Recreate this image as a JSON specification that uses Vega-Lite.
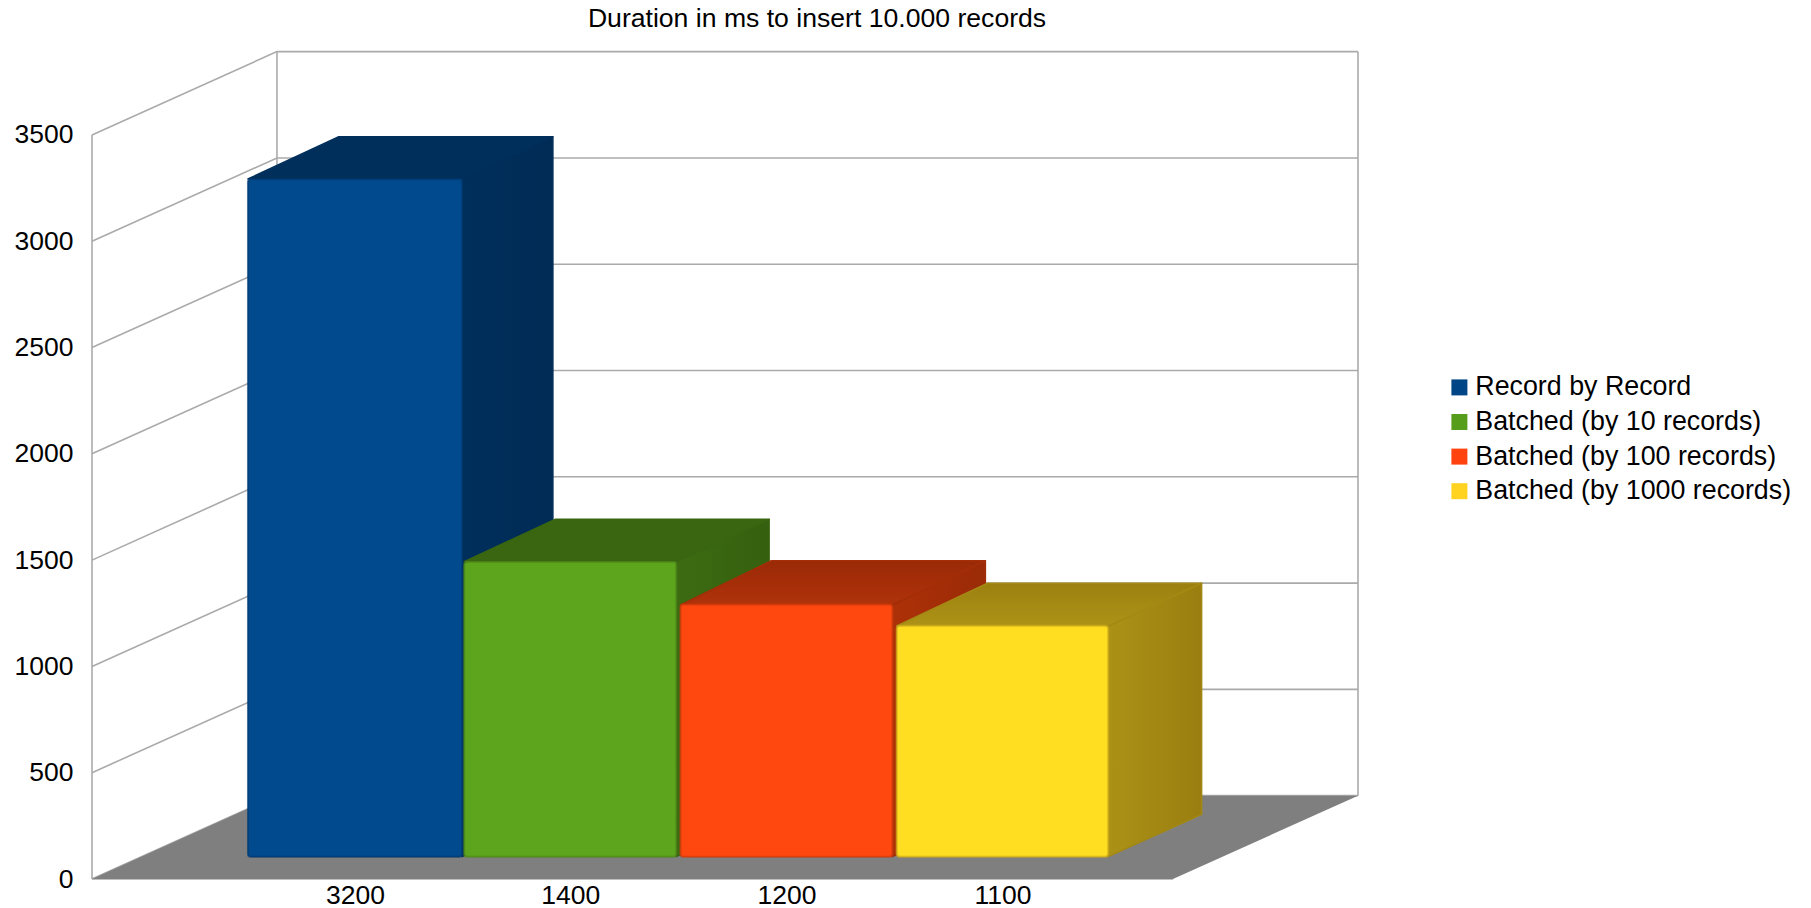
{"$schema":"https://vega.github.io/schema/vega-lite/v6.json","width":1266,"height":828,"autosize":{"type":"none"},"padding":{"left":92,"top":51,"right":453,"bottom":29},"background":"white","config":{"view":{"stroke":null},"font":"Liberation Sans"},"title":{"text":"Duration in ms to insert 10.000 records","fontSize":26.6,"fontWeight":"normal","font":"Liberation Sans","color":"#000000","anchor":"middle","dx":92,"offset":16},"datasets":{"bars":[{"series":"Record by Record","category":"3200","value":3200,"start":0,"end":0.99},{"series":"Batched (by 10 records)","category":"1400","value":1400,"start":1.0,"end":1.98},{"series":"Batched (by 100 records)","category":"1200","value":1200,"start":2.0,"end":2.98},{"series":"Batched (by 1000 records)","category":"1100","value":1100,"start":3.0,"end":3.978}],"grid":[{"line":"g0","x":-0.7212,"y":0},{"line":"g0","x":0.1341,"y":392},{"line":"g0","x":5.1331,"y":392},{"line":"g500","x":-0.7212,"y":500},{"line":"g500","x":0.1341,"y":892},{"line":"g500","x":5.1331,"y":892},{"line":"g1000","x":-0.7212,"y":1000},{"line":"g1000","x":0.1341,"y":1392},{"line":"g1000","x":5.1331,"y":1392},{"line":"g1500","x":-0.7212,"y":1500},{"line":"g1500","x":0.1341,"y":1892},{"line":"g1500","x":5.1331,"y":1892},{"line":"g2000","x":-0.7212,"y":2000},{"line":"g2000","x":0.1341,"y":2392},{"line":"g2000","x":5.1331,"y":2392},{"line":"g2500","x":-0.7212,"y":2500},{"line":"g2500","x":0.1341,"y":2892},{"line":"g2500","x":5.1331,"y":2892},{"line":"g3000","x":-0.7212,"y":3000},{"line":"g3000","x":0.1341,"y":3392},{"line":"g3000","x":5.1331,"y":3392},{"line":"g3500","x":-0.7212,"y":3500},{"line":"g3500","x":0.1341,"y":3892},{"line":"g3500","x":5.1331,"y":3892},{"line":"left","x":-0.7212,"y":0},{"line":"left","x":-0.7212,"y":3500},{"line":"back","x":0.1341,"y":392},{"line":"back","x":0.1341,"y":3892},{"line":"right","x":5.1331,"y":392},{"line":"right","x":5.1331,"y":3892},{"line":"front","x":-0.7212,"y":0},{"line":"front","x":4.2775,"y":0}],"floor":[{"x":-0.7212,"y":0,"y2":0},{"x":0.1341,"y":0,"y2":392},{"x":4.2775,"y":0,"y2":392},{"x":5.1331,"y":392,"y2":392}],"faces":[{"series":"blue","face":"side","x":0.99,"y":105,"y2":3293},{"series":"blue","face":"side","x":1.41,"y":304,"y2":3492},{"series":"blue","face":"top","x":0,"y":3293,"y2":3293},{"series":"blue","face":"top","x":0.42,"y":3293,"y2":3492},{"series":"blue","face":"top","x":0.99,"y":3293,"y2":3492},{"series":"blue","face":"top","x":1.41,"y":3492,"y2":3492},{"series":"green","face":"side","x":1.98,"y":105,"y2":1493},{"series":"green","face":"side","x":2.41,"y":304,"y2":1692},{"series":"green","face":"top","x":1.0,"y":1493,"y2":1493},{"series":"green","face":"top","x":1.42,"y":1493,"y2":1692},{"series":"green","face":"top","x":1.98,"y":1493,"y2":1692},{"series":"green","face":"top","x":2.41,"y":1692,"y2":1692},{"series":"red","face":"side","x":2.98,"y":105,"y2":1289},{"series":"red","face":"side","x":3.41,"y":304,"y2":1497},{"series":"red","face":"top","x":2.0,"y":1289,"y2":1289},{"series":"red","face":"top","x":2.42,"y":1289,"y2":1497},{"series":"red","face":"top","x":2.98,"y":1289,"y2":1497},{"series":"red","face":"top","x":3.41,"y":1497,"y2":1497},{"series":"yellow","face":"side","x":3.978,"y":105,"y2":1190},{"series":"yellow","face":"side","x":4.41,"y":304,"y2":1391},{"series":"yellow","face":"top","x":3.0,"y":1190,"y2":1190},{"series":"yellow","face":"top","x":3.42,"y":1190,"y2":1391},{"series":"yellow","face":"top","x":3.978,"y":1190,"y2":1391},{"series":"yellow","face":"top","x":4.41,"y":1391,"y2":1391}]},"encoding":{"x":{"field":"x","type":"quantitative","title":null,"scale":{"domain":[-0.7212,5.1331],"nice":false,"zero":false},"axis":{"values":[0.495,1.49,2.49,3.489],"labelExpr":"datum.value<1?'3200':datum.value<2?'1400':datum.value<3?'1200':'1100'","title":null,"grid":false,"domain":false,"ticks":false,"labelFontSize":26.5,"labelColor":"#000000","labelFont":"Liberation Sans","labelPadding":3,"labelFlush":false,"labelOverlap":false}},"y":{"field":"y","type":"quantitative","title":null,"scale":{"domain":[0,3895],"nice":false,"zero":false},"axis":{"values":[0,500,1000,1500,2000,2500,3000,3500],"title":null,"grid":false,"domain":false,"ticks":false,"labelFontSize":26.5,"labelColor":"#000000","labelFont":"Liberation Sans","labelPadding":19,"format":"d","labelFlush":false,"labelOverlap":false}}},"layer":[{"data":{"name":"grid"},"mark":{"type":"line","stroke":"#aaaaaa","strokeWidth":1.6},"encoding":{"detail":{"field":"line"}}},{"data":{"name":"floor"},"mark":{"type":"area","fill":"#7f7f7f"},"encoding":{"y2":{"field":"y2"}}},{"data":{"name":"bars"},"mark":{"type":"bar","yOffset":-19.5,"y2Offset":-22.3,"cornerRadius":3},"encoding":{"x":{"field":"start","type":"quantitative","title":null},"x2":{"field":"end"},"y":{"field":"value","type":"quantitative","title":null},"y2":{"datum":0},"color":{"field":"series","type":"nominal","title":null,"scale":{"domain":["Record by Record","Batched (by 10 records)","Batched (by 100 records)","Batched (by 1000 records)"],"range":["#004586","#579d1c","#ff420e","#ffd320"]},"legend":{"orient":"none","legendX":1354,"legendY":323,"symbolType":"square","symbolSize":256,"symbolStrokeWidth":0,"labelFontSize":26.8,"labelFont":"Liberation Sans","labelColor":"#000000","labelLimit":400,"rowPadding":6.6,"labelOffset":2.5,"title":null}}}},{"data":{"name":"faces"},"transform":[{"filter":"datum.series=='blue'&&datum.face=='side'"}],"mark":{"type":"area","stroke":"#002d58","strokeWidth":1.5,"strokeJoin":"round","fill":{"gradient":"linear","x1":0,"x2":1,"y1":0,"y2":0,"stops":[{"offset":0,"color":"#002f5c"},{"offset":1,"color":"#002b55"}]}},"encoding":{"y2":{"field":"y2"}}},{"data":{"name":"faces"},"transform":[{"filter":"datum.series=='blue'&&datum.face=='top'"}],"mark":{"type":"area","fill":"#002f5c","stroke":"#002f5c","strokeWidth":1.5,"strokeJoin":"round"},"encoding":{"y2":{"field":"y2"}}},{"data":{"name":"bars"},"transform":[{"filter":"datum.category=='3200'"}],"mark":{"type":"bar","yOffset":-19.5,"y2Offset":-22.3,"cornerRadius":3,"fill":"#004a8d","stroke":"#003a70","strokeWidth":2,"strokeOpacity":0.7},"encoding":{"x":{"field":"start","type":"quantitative","title":null},"x2":{"field":"end"},"y":{"field":"value","type":"quantitative","title":null},"y2":{"datum":0}}},{"data":{"name":"faces"},"transform":[{"filter":"datum.series=='green'&&datum.face=='side'"}],"mark":{"type":"area","stroke":"#386411","strokeWidth":1.5,"strokeJoin":"round","fill":{"gradient":"linear","x1":0,"x2":1,"y1":0,"y2":0,"stops":[{"offset":0,"color":"#3d6b12"},{"offset":1,"color":"#35600f"}]}},"encoding":{"y2":{"field":"y2"}}},{"data":{"name":"faces"},"transform":[{"filter":"datum.series=='green'&&datum.face=='top'"}],"mark":{"type":"area","fill":"#3a6611","stroke":"#3a6611","strokeWidth":1.5,"strokeJoin":"round"},"encoding":{"y2":{"field":"y2"}}},{"data":{"name":"bars"},"transform":[{"filter":"datum.category=='1400'"}],"mark":{"type":"bar","yOffset":-19.5,"y2Offset":-22.3,"cornerRadius":3,"fill":"#5ca51d","stroke":"#4e8a18","strokeWidth":2,"strokeOpacity":0.7},"encoding":{"x":{"field":"start","type":"quantitative","title":null},"x2":{"field":"end"},"y":{"field":"value","type":"quantitative","title":null},"y2":{"datum":0}}},{"data":{"name":"faces"},"transform":[{"filter":"datum.series=='red'&&datum.face=='side'"}],"mark":{"type":"area","stroke":"#a22d08","strokeWidth":1.5,"strokeJoin":"round","fill":{"gradient":"linear","x1":0,"x2":1,"y1":0,"y2":0,"stops":[{"offset":0,"color":"#ad3108"},{"offset":1,"color":"#9a2a07"}]}},"encoding":{"y2":{"field":"y2"}}},{"data":{"name":"faces"},"transform":[{"filter":"datum.series=='red'&&datum.face=='top'"}],"mark":{"type":"area","stroke":"#a32e08","strokeWidth":1.5,"strokeJoin":"round","fill":{"gradient":"linear","x1":0,"x2":0,"y1":0,"y2":1,"stops":[{"offset":0,"color":"#9a2a07"},{"offset":1,"color":"#b0320a"}]}},"encoding":{"y2":{"field":"y2"}}},{"data":{"name":"bars"},"transform":[{"filter":"datum.category=='1200'"}],"mark":{"type":"bar","yOffset":-19.5,"y2Offset":-22.3,"cornerRadius":3,"fill":"#ff4810","stroke":"#cf3a0c","strokeWidth":2,"strokeOpacity":0.7},"encoding":{"x":{"field":"start","type":"quantitative","title":null},"x2":{"field":"end"},"y":{"field":"value","type":"quantitative","title":null},"y2":{"datum":0}}},{"data":{"name":"faces"},"transform":[{"filter":"datum.series=='yellow'&&datum.face=='side'"}],"mark":{"type":"area","stroke":"#a28813","strokeWidth":1.5,"strokeJoin":"round","fill":{"gradient":"linear","x1":0,"x2":1,"y1":0,"y2":0,"stops":[{"offset":0,"color":"#ab9216"},{"offset":1,"color":"#9a7e10"}]}},"encoding":{"y2":{"field":"y2"}}},{"data":{"name":"faces"},"transform":[{"filter":"datum.series=='yellow'&&datum.face=='top'"}],"mark":{"type":"area","stroke":"#a48a14","strokeWidth":1.5,"strokeJoin":"round","fill":{"gradient":"linear","x1":0,"x2":0,"y1":0,"y2":1,"stops":[{"offset":0,"color":"#9c8010"},{"offset":1,"color":"#ad9317"}]}},"encoding":{"y2":{"field":"y2"}}},{"data":{"name":"bars"},"transform":[{"filter":"datum.category=='1100'"}],"mark":{"type":"bar","yOffset":-19.5,"y2Offset":-22.3,"cornerRadius":3,"fill":"#ffdd20","stroke":"#cdaa1a","strokeWidth":2,"strokeOpacity":0.7},"encoding":{"x":{"field":"start","type":"quantitative","title":null},"x2":{"field":"end"},"y":{"field":"value","type":"quantitative","title":null},"y2":{"datum":0}}}]}
